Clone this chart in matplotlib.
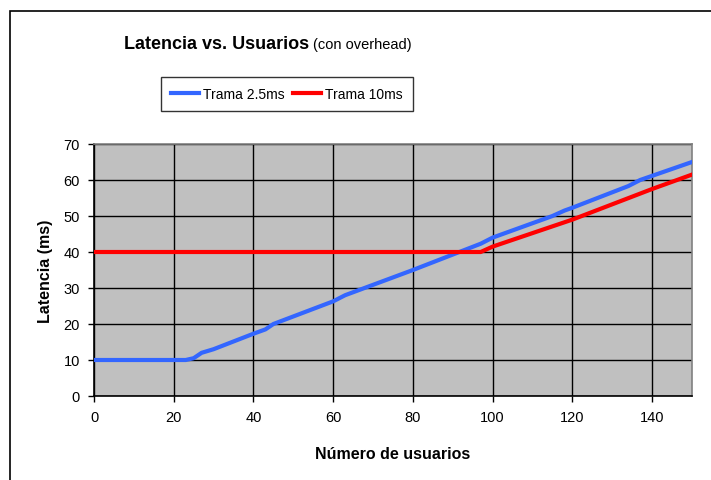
import matplotlib.pyplot as plt
from matplotlib.patches import Rectangle

# data
users_25 = [0, 23, 25, 27, 30, 40, 43, 45, 60, 63, 80, 97, 100, 115, 118, 120, 134, 137, 150]
lat_25 = [10, 10, 10.5, 12, 13, 17.3, 18.5, 20, 26.3, 28, 35, 42.3, 44, 50, 51.5, 52.3, 58.3, 60, 65]
users_10 = [0, 97, 100, 120, 140, 150]
lat_10 = [40, 40, 41.5, 49, 57.5, 61.5]
x_ticks = [0, 20, 40, 60, 80, 100, 120, 140]
y_ticks = [0, 10, 20, 30, 40, 50, 60, 70]

plt.rcParams['font.family'] = ['Liberation Sans', 'DejaVu Sans']

fig = plt.figure(figsize=(7.11, 4.81), dpi=100)
W, H = 711, 481

# outer chart frame
fig.patches.append(Rectangle((10 / W, -0.1), 1.2, 1 - 12 / H + 0.1,
                             transform=fig.transFigure, fill=False,
                             edgecolor='black', linewidth=1.2))

ax = fig.add_axes([94 / W, 1 - 397 / H, (692 - 94) / W, (397 - 145) / H])
ax.set_facecolor('#c0c0c0')

ax.plot(users_25, lat_25, color='#3366ff', linewidth=3, label='Trama 2.5ms', zorder=3)
ax.plot(users_10, lat_10, color='#ff0000', linewidth=3, label='Trama 10ms', zorder=3)

ax.set_xlim(0, 150)
ax.set_ylim(0, 70)
ax.set_xticks(x_ticks)
ax.set_yticks(y_ticks)
ax.grid(True, color='black', linewidth=1)
ax.set_axisbelow(True)
ax.tick_params(direction='out', length=4, width=1, labelsize=10.5, colors='black', pad=6)

for s in ['top', 'right']:
    ax.spines[s].set_color('#808080')
    ax.spines[s].set_linewidth(1.2)
for s in ['left', 'bottom']:
    ax.spines[s].set_color('black')
    ax.spines[s].set_linewidth(1.2)

ax.set_xlabel('Número de usuarios', fontsize=11.5, fontweight='bold', labelpad=16)
ax.set_ylabel('Latencia (ms)', fontsize=11.5, fontweight='bold', labelpad=8)

fig.text(309 / W, 1 - 45 / H, 'Latencia vs. Usuarios', fontsize=13, fontweight='bold',
         ha='right', va='center')
fig.text(313 / W, 1 - 45 / H, '(con overhead)', fontsize=10.5, ha='left', va='center')

leg = fig.legend(loc='center', bbox_to_anchor=(287 / W, 1 - 95 / H), ncol=2,
                 fontsize=10, frameon=True, fancybox=False, edgecolor='black',
                 handlelength=2.0, columnspacing=0.6, handletextpad=0.3,
                 borderpad=0.75, borderaxespad=0)
leg.get_frame().set_linewidth(1)

fig.savefig('out.png', dpi=100)
